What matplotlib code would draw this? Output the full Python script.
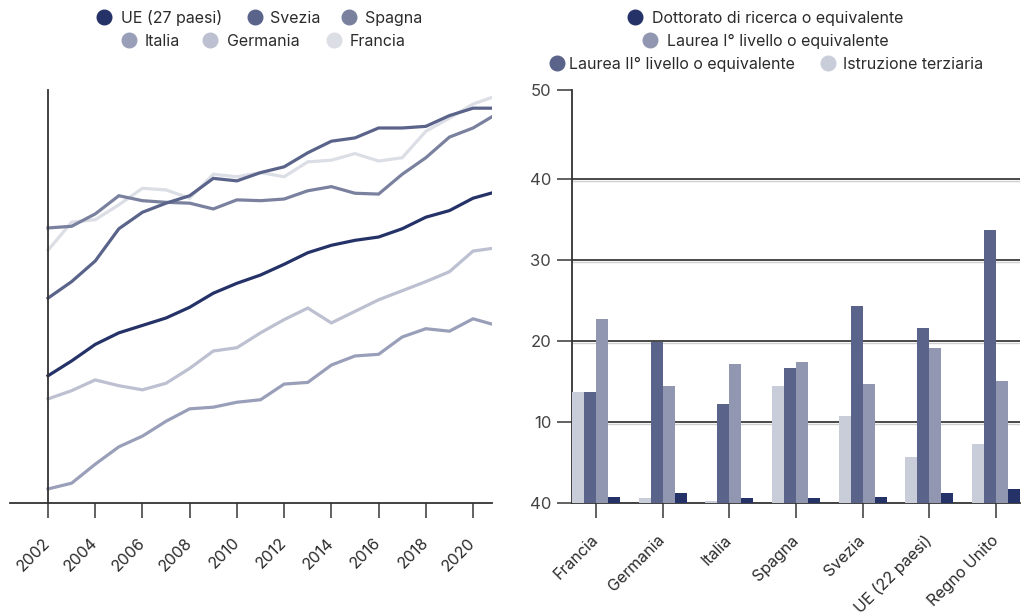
import matplotlib
matplotlib.use("Agg")
import matplotlib.pyplot as plt
from matplotlib.lines import Line2D

plt.rcParams['font.family'] = ['Inter', 'DejaVu Sans']

# ---------------- data: line chart ----------------
years = list(range(2002, 2022))
ue27 = [15.4, 17.2, 19.2, 20.6, 21.5, 22.4, 23.7, 25.4, 26.6, 27.6,
        28.9, 30.3, 31.2, 31.8, 32.2, 33.2, 34.6, 35.4, 36.9, 37.7]
svezia = [24.8, 26.8, 29.3, 33.2, 35.2, 36.3, 37.2, 39.3, 39.0, 40.0,
          40.7, 42.4, 43.8, 44.2, 45.4, 45.4, 45.6, 46.9, 47.8, 47.8]
spagna = [33.3, 33.5, 35.0, 37.2, 36.6, 36.4, 36.3, 35.6, 36.7, 36.6,
          36.8, 37.8, 38.3, 37.5, 37.4, 39.8, 41.8, 44.3, 45.4, 47.1]
italia = [1.7, 2.4, 4.7, 6.8, 8.1, 9.9, 11.4, 11.6, 12.2, 12.5,
          14.4, 14.6, 16.7, 17.8, 18.0, 20.1, 21.1, 20.8, 22.3, 21.5]
germania = [12.6, 13.6, 14.9, 14.2, 13.7, 14.5, 16.3, 18.4, 18.8, 20.6,
            22.2, 23.6, 21.8, 23.2, 24.6, 25.7, 26.8, 28.0, 30.5, 30.9]
francia = [30.6, 34.0, 34.3, 36.1, 38.1, 37.9, 36.9, 39.8, 39.5, 40.0,
           39.5, 41.3, 41.5, 42.3, 41.4, 41.8, 45.0, 46.6, 48.3, 49.3]
year_ticks = [2002, 2004, 2006, 2008, 2010, 2012, 2014, 2016, 2018, 2020]

# ---------------- data: bar chart ----------------
countries = ["Francia", "Germania", "Italia", "Spagna", "Svezia",
             "UE (22 paesi)", "Regno Unito"]
terziaria = [13.7, 0.6, 0.3, 14.4, 10.7, 5.7, 7.3]
laurea2 = [13.7, 19.9, 12.2, 16.7, 24.3, 21.6, 33.7]
laurea1 = [22.7, 14.4, 17.2, 17.4, 14.7, 19.1, 15.1]
dottorato = [0.75, 1.2, 0.6, 0.6, 0.75, 1.2, 1.7]
bar_ytick_labels = ["40", "10", "20", "30", "40", "50"]

# ---------------- styles ----------------
C_UE = "#243268"
C_SVE = "#5a6389"
C_SPA = "#7a819f"
C_ITA = "#9a9fb9"
C_GER = "#bcc0d0"
C_FRA = "#dcdee6"
C_TERZ = "#c9ccd9"
C_L2 = "#5a6389"
C_L1 = "#9297b1"
C_DOT = "#243268"
AX = "#333333"
TK = "#555555"
TXT = "#2b2b2b"

W, H = 1021, 612
fig = plt.figure(figsize=(W / 100, H / 100), dpi=100)


def fx(px):
    return px / W


def fy(py):
    return 1 - py / H


# ---------------- line chart ----------------
ax1 = fig.add_axes([fx(10), fy(503), fx(491.7) - fx(10), fy(90) - fy(503)])
series = [
    (francia, C_FRA), (germania, C_GER), (italia, C_ITA),
    (spagna, C_SPA), (svezia, C_SVE), (ue27, C_UE),
]
for vals, col in series:
    ax1.plot(years, vals, color=col, lw=2.3, solid_joinstyle='miter')
ax1.set_xlim(2000.39, 2020.79)
ax1.set_ylim(0, 50)
for s in ['top', 'right']:
    ax1.spines[s].set_visible(False)
ax1.spines['left'].set_position(('data', 2002))
ax1.spines['left'].set_color(AX)
ax1.spines['left'].set_linewidth(1.3)
ax1.spines['bottom'].set_color(AX)
ax1.spines['bottom'].set_linewidth(1.3)
ax1.set_yticks([])
ax1.set_xticks(year_ticks)
ax1.set_xticklabels([str(y) for y in year_ticks], rotation=45, ha='right',
                    va='center', rotation_mode='anchor', fontsize=11.5, color=TXT)
ax1.tick_params(axis='x', length=11, width=1.3, color=TK, pad=16)

# ---------------- bar chart ----------------
ax2 = fig.add_axes([fx(572), fy(503), fx(1020) - fx(572), fy(90) - fy(503)])
bw = 0.18
xs = list(range(len(countries)))
bar_series = [(terziaria, C_TERZ, -1.5), (laurea2, C_L2, -0.5),
              (laurea1, C_L1, 0.5), (dottorato, C_DOT, 1.5)]
for vals, col, off in bar_series:
    ax2.bar([x + off * bw for x in xs], vals, width=bw, color=col, zorder=3)
for g in [10, 20, 30, 40]:
    ax2.axhline(g, color="#3a3a3a", lw=1.3, zorder=1)
    ax2.axhline(g - 0.25, color="#d0d0d0", lw=1.0, zorder=0.9)
ax2.set_xlim(-0.36, 6.36)
ax2.set_ylim(0, 51)
for s in ['top', 'right']:
    ax2.spines[s].set_visible(False)
for s in ['left', 'bottom']:
    ax2.spines[s].set_color(AX)
    ax2.spines[s].set_linewidth(1.3)
ax2.set_yticks([0, 10, 20, 30, 40, 51])
ax2.set_yticklabels(bar_ytick_labels, fontsize=12, color="#444444")
ax2.tick_params(axis='y', length=11, width=1.3, color=TK, pad=4)
ax2.set_xticks(xs)
ax2.set_xticklabels(countries, rotation=45, ha='right', va='center',
                    rotation_mode='anchor', fontsize=11.5, color=TXT)
ax2.tick_params(axis='x', length=11, width=1.3, color=TK, pad=14)

# ---------------- legends ----------------
def legend_item(mx, my, tx, label, col):
    fig.add_artist(Line2D([fx(mx)], [fy(my)], marker='o', ms=10.5,
                          color=col, lw=0, transform=fig.transFigure))
    fig.text(fx(tx), fy(my), label, ha='left', va='center_baseline',
             fontsize=11.5, color=TXT)


legend_item(104, 17, 121, "UE (27 paesi)", C_UE)
legend_item(255, 17, 270, "Svezia", C_SVE)
legend_item(349, 17, 365, "Spagna", C_SPA)
legend_item(129, 40, 145, "Italia", C_ITA)
legend_item(210, 40, 227, "Germania", C_GER)
legend_item(334, 40, 350, "Francia", C_FRA)

legend_item(635, 17, 652, "Dottorato di ricerca o equivalente", C_DOT)
legend_item(650, 40, 667, "Laurea I° livello o equivalente", C_L1)
legend_item(557, 63, 569, "Laurea II° livello o equivalente", C_L2)
legend_item(828, 63, 843, "Istruzione terziaria", C_TERZ)

fig.savefig("out.png", dpi=100)
